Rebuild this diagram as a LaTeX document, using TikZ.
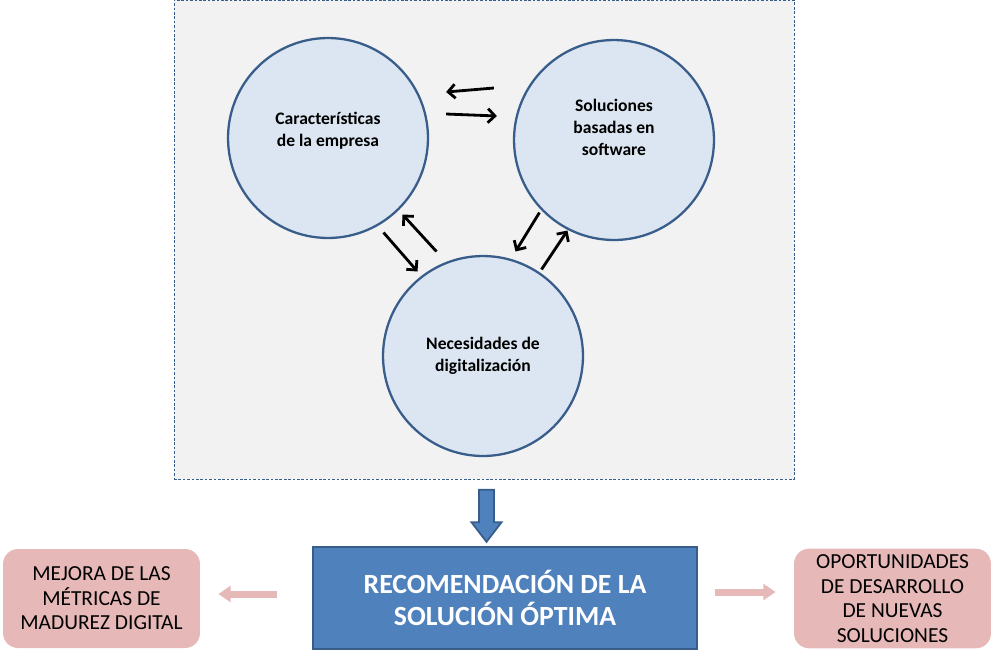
\documentclass[tikz,border=0pt]{standalone}
\usepackage{fontspec}
\setmainfont{Carlito}
\usetikzlibrary{arrows.meta, shapes.arrows}

\definecolor{framegray}{HTML}{F2F2F2}
\definecolor{bubblefill}{HTML}{DCE6F2}
\definecolor{bluedark}{HTML}{385D8A}
\definecolor{blueacc}{HTML}{4F81BD}
\definecolor{rosefill}{HTML}{E6B9B8}

\begin{document}
\begin{tikzpicture}[
        x=0.02cm, y=-0.02cm,
        frame/.style={rectangle, draw=bluedark, fill=framegray, line width=0.5pt, dash pattern=on 1.5pt off 1pt, minimum width=12.4cm, minimum height=9.58cm},
        bubble/.style={circle, draw=bluedark, fill=bubblefill, line width=1.3pt, minimum size=4cm, align=center, font=\fontsize{10}{12.5}\selectfont\bfseries},
        rec/.style={rectangle, draw=bluedark, fill=blueacc, line width=1.2pt, minimum width=7.68cm, minimum height=2.04cm, align=center, text=white, font=\fontsize{15.8}{18}\selectfont\bfseries},
        outcome/.style={rectangle, rounded corners=0.3cm, fill=rosefill, minimum width=3.94cm, minimum height=1.98cm, align=center, font=\fontsize{12.2}{14}\selectfont},
        arrow/.style={-{Straight Barb[length=4pt, width=8pt]}, line width=1.6pt},
        fat/.style={-{Triangle[length=7pt, width=9pt]}, line width=4pt, draw=rosefill},
        down/.style={single arrow, shape border rotate=270, draw=bluedark, fill=blueacc, line width=1pt, minimum height=1.04cm, minimum width=0.6cm, inner sep=0.13cm, single arrow head extend=0.15cm, single arrow tip angle=75}
    ]
        \useasboundingbox (0,0) rectangle (994,664);

        % Analysis area (top)
        \node[frame] (area) at (484,239.5) {};
        \node[bubble, text depth=10pt] (emp) at (328,138) {Características\\de la empresa};
        \node[bubble, text depth=14pt] (sol) at (614,140) {Soluciones\\basadas en\\software};
        \node[bubble] (nec) at (483,356) {Necesidades de\\digitalización};

        % Result (bottom)
        \node[down] (go) at (486.5,511) {};
        \node[rec] (best) at (505,598) {RECOMENDACIÓN DE LA\\SOLUCIÓN ÓPTIMA};
        \node[outcome] (metr) at (101.5,598.5) {MEJORA DE LAS\\MÉTRICAS DE\\MADUREZ DIGITAL};
        \node[outcome] (opor) at (892.5,598.5) {OPORTUNIDADES\\DE DESARROLLO\\DE NUEVAS\\SOLUCIONES};

        % Connections
        \draw[arrow] ([shift={(-19,-52)}]sol.west) -- ([shift={(17,-46)}]emp.east);
        \draw[arrow] ([shift={(17,-24)}]emp.east) -- ([shift={(-16,-24)}]sol.west);
        \draw[arrow] ([shift={(-16,23)}]emp.south east) -- ([shift={(6,-13)}]nec.north west);
        \draw[arrow] ([shift={(25,-33)}]nec.north west) -- ([shift={(3,5)}]emp.south east);
        \draw[arrow] ([shift={(-3,1)}]sol.south west) -- ([shift={(-39,-33)}]nec.north east);
        \draw[arrow] ([shift={(-13,-15)}]nec.north east) -- ([shift={(25,19)}]sol.south west);
        \draw[fat] ([shift={(-35,-4)}]best.west) -- ([shift={(18,-4.5)}]metr.east);
        \draw[fat] ([shift={(17,-6)}]best.east) -- ([shift={(-18,-6.5)}]opor.west);
    \end{tikzpicture}
\end{document}
